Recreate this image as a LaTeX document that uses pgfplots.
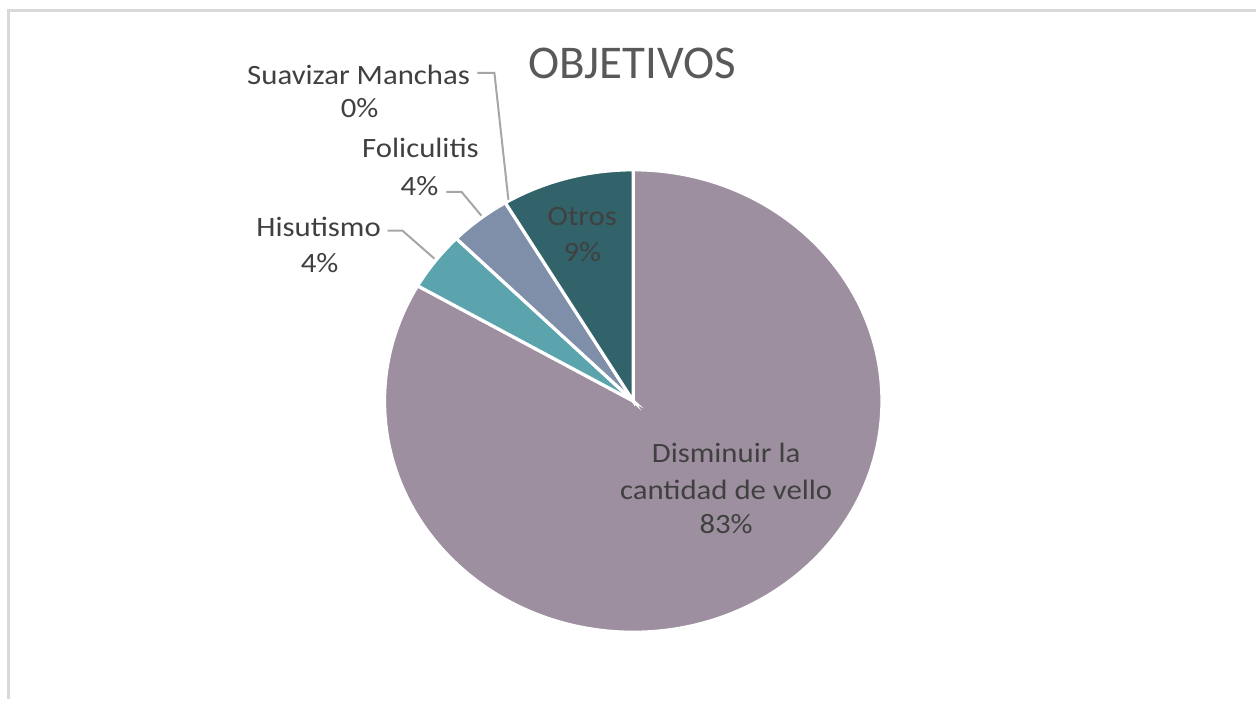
\documentclass[border=0pt]{standalone}
\usepackage{pgfplots}
\usepackage{pgfplotstable}
\pgfplotsset{compat=1.18}
\usepackage{fontspec}
\setmainfont{Carlito}

\definecolor{cDis}{HTML}{9D8F9F}
\definecolor{cHis}{HTML}{5BA3AD}
\definecolor{cFol}{HTML}{7F8FA9}
\definecolor{cOtr}{HTML}{32636A}
\definecolor{txt}{HTML}{404040}
\definecolor{ttl}{HTML}{595959}
\definecolor{lead}{HTML}{A6A6A6}
\definecolor{frame}{HTML}{D9D9D9}

% share per objective, in percent
\pgfplotstableread{
label value
Disminuir 83.3
Hisutismo 4.1
Foliculitis 4.0
Suavizar 0
Otros 8.6
}\piedata

\newcommand{\lbl}[1]{\scalebox{1.1}[1]{\fontsize{14}{17}\selectfont #1}}

\begin{document}
\begin{tikzpicture}
\pgfplotstablegetelem{0}{value}\of\piedata \let\vA=\pgfplotsretval
\pgfplotstablegetelem{1}{value}\of\piedata \let\vB=\pgfplotsretval
\pgfplotstablegetelem{2}{value}\of\piedata \let\vC=\pgfplotsretval
\pgfplotstablegetelem{3}{value}\of\piedata \let\vD=\pgfplotsretval
\pgfplotstablegetelem{4}{value}\of\piedata \let\vE=\pgfplotsretval
\pgfmathsetmacro\total{\vA+\vB+\vC+\vD+\vE}
\pgfmathsetmacro\aA{90}
\pgfmathsetmacro\aB{\aA-360*(\vA/\total)}
\pgfmathsetmacro\aC{\aB-360*(\vB/\total)}
\pgfmathsetmacro\aD{\aC-360*(\vC/\total)}
\pgfmathsetmacro\aE{\aD-360*(\vD/\total)}
\pgfmathsetmacro\aF{\aE-360*(\vE/\total)}
\begin{axis}[
  width=628.5pt, height=350pt, scale only axis,
  xmin=0, xmax=1257, ymin=0, ymax=700,
  axis lines=none, clip=false,
]
\path (0,0) rectangle (1257,700);
% chart frame (right and bottom edges fall outside the picture)
\draw[frame, line width=1.5pt] (9,0) -- (9,689) -- (1257,689);

\node[ttl, font=\fontsize{23.5}{28}\selectfont] at (633,636) {OBJETIVOS};

% slices
\fill[cDis, draw=white, line width=1.6pt] (634,298.5) -- ++(\aA:124.5pt and 115.75pt)
  arc[start angle=\aA, end angle=\aB, x radius=124.5pt, y radius=115.75pt] -- cycle;
\fill[cHis, draw=white, line width=1.6pt] (634,298.5) -- ++(\aB:124.5pt and 115.75pt)
  arc[start angle=\aB, end angle=\aC, x radius=124.5pt, y radius=115.75pt] -- cycle;
\fill[cFol, draw=white, line width=1.6pt] (634,298.5) -- ++(\aC:124.5pt and 115.75pt)
  arc[start angle=\aC, end angle=\aD, x radius=124.5pt, y radius=115.75pt] -- cycle;
\fill[cOtr, draw=white, line width=1.6pt] (634,298.5) -- ++(\aE:124.5pt and 115.75pt)
  arc[start angle=\aE, end angle=\aF, x radius=124.5pt, y radius=115.75pt] -- cycle;

% leader lines
\draw[lead, line width=1pt] (478,627) -- (495,627) -- (509,500);
\draw[lead, line width=1pt] (447,508) -- (462,508) -- (482,484);
\draw[lead, line width=1pt] (388,469) -- (403,469) -- (435,441);

% labels
\node[txt] at (359,625) {\lbl{Suavizar Manchas}};
\node[txt] at (360,592) {\lbl{0\%}};
\node[txt] at (421,552) {\lbl{Foliculitis}};
\node[txt] at (420,514) {\lbl{4\%}};
\node[txt] at (319,473) {\lbl{Hisutismo}};
\node[txt] at (320,437) {\lbl{4\%}};
\node[txt] at (583,483) {\lbl{Otros}};
\node[txt] at (583,448) {\lbl{9\%}};
\node[txt] at (727,247) {\lbl{Disminuir la}};
\node[txt] at (727,210) {\lbl{cantidad de vello}};
\node[txt] at (727,175) {\lbl{83\%}};
\end{axis}
\end{tikzpicture}
\end{document}
